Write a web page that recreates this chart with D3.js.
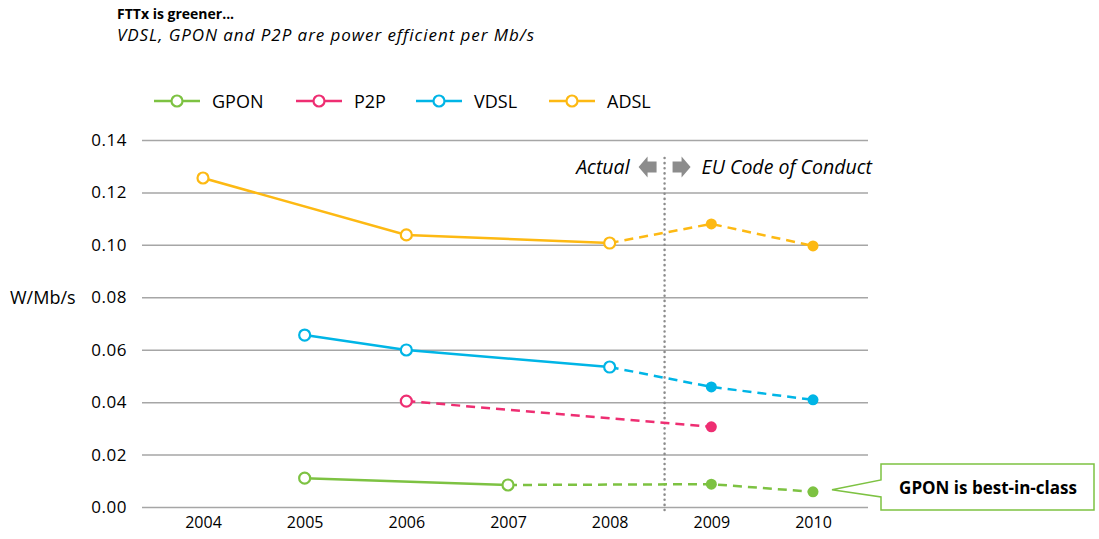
<!DOCTYPE html>
<html>
<head>
<meta charset="utf-8">
<script src="https://d3js.org/d3.v7.min.js"></script>
<style>
  body { margin: 0; background: #fff; }
  text { font-family: "Open Sans", "Noto Sans", sans-serif; fill: #000; }
</style>
</head>
<body>
<div id="chart"></div>
<script>
// data
var years = [2004, 2005, 2006, 2007, 2008, 2009, 2010];
var yTicks = [0, 0.02, 0.04, 0.06, 0.08, 0.10, 0.12, 0.14];
var gpon = [null, 0.0110, null, 0.0084, null, 0.0087, 0.0058];
var p2p  = [null, null, 0.0404, null, null, 0.0306, null];
var vdsl = [null, 0.0656, 0.0599, null, 0.0534, 0.0458, 0.0409];
var adsl = [0.1255, null, 0.1038, null, 0.1007, 0.1080, 0.0996];
var lastActual = 2008; // years after this are EU Code of Conduct targets

var series = [
  { name: "GPON", values: gpon, color: "#7dc242" },
  { name: "P2P",  values: p2p,  color: "#ee2e72" },
  { name: "VDSL", values: vdsl, color: "#00b5e6" },
  { name: "ADSL", values: adsl, color: "#fdb913" }
];

var W = 1099, H = 539;
var svg = d3.select("#chart").append("svg")
  .attr("width", W).attr("height", H);

var x = d3.scalePoint().domain(years).range([203, 813]);
var y = d3.scaleLinear().domain([0, 0.14]).range([507, 140]);

// title
svg.append("text").attr("x", 117).attr("y", 19)
  .style("font-size", "14px").style("font-weight", "bold")
  .text("FTTx is greener...");
svg.append("text").attr("x", 117).attr("y", 41)
  .style("font-size", "17px").style("font-style", "italic").style("letter-spacing", "0.95px")
  .text("VDSL, GPON and P2P are power efficient per Mb/s");

// gridlines + y axis
var yAxis = svg.append("g")
  .attr("transform", "translate(142,0)")
  .call(d3.axisLeft(y).tickValues(yTicks).tickSize(-726)
    .tickFormat(d3.format(".2f")).tickPadding(15));
yAxis.select(".domain").remove();
yAxis.selectAll("line").attr("stroke", "#a6a6a6").attr("stroke-width", 1.5);
yAxis.selectAll("text").style("font-size", "17px").style("font-family", "'Open Sans', sans-serif")
  .style("letter-spacing", "0.5px").attr("fill", "#000");

// x axis labels
var xAxis = svg.append("g")
  .attr("transform", "translate(0,507)")
  .call(d3.axisBottom(x).tickSize(0).tickPadding(10).tickFormat(d3.format("d")));
xAxis.select(".domain").remove();
xAxis.selectAll("text").style("font-size", "16px").style("font-family", "'Open Sans', sans-serif").attr("fill", "#000");

svg.append("text").attr("x", 10).attr("y", 304)
  .style("font-size", "18px").text("W/Mb/s");

// divider between actual and target
var xSplit = x(lastActual) + (x(lastActual + 1) - x(lastActual)) * 0.54;
svg.append("line")
  .attr("x1", xSplit).attr("x2", xSplit).attr("y1", 158).attr("y2", 513)
  .attr("stroke", "#8c8c8c").attr("stroke-width", 2.5)
  .attr("stroke-dasharray", "0.1 5").attr("stroke-linecap", "round");

svg.append("text").attr("x", xSplit - 35).attr("y", 174)
  .attr("text-anchor", "end").style("font-size", "19.5px").style("font-style", "italic")
  .text("Actual");
svg.append("text").attr("x", xSplit + 37).attr("y", 174)
  .style("font-size", "19.5px").style("font-style", "italic")
  .text("EU Code of Conduct");
// grey arrows either side of the divider
svg.append("path")
  .attr("d", "M" + (xSplit - 26) + ",167 l9,-10.5 v5 h9 v11 h-9 v5 z")
  .attr("fill", "#8c8c8c");
svg.append("path")
  .attr("d", "M" + (xSplit + 26) + ",167 l-9,-10.5 v5 h-9 v11 h9 v5 z")
  .attr("fill", "#8c8c8c");

// lines
var line = d3.line().x(function(d) { return x(d.year); }).y(function(d) { return y(d.value); });

series.forEach(function(s) {
  var pts = [];
  s.values.forEach(function(v, i) {
    if (v != null) pts.push({ year: years[i], value: v });
  });
  var actual = pts.filter(function(d) { return d.year <= lastActual; });
  var target = pts.filter(function(d) { return d.year > lastActual; });
  if (actual.length > 1) {
    svg.append("path").datum(actual).attr("d", line)
      .attr("fill", "none").attr("stroke", s.color).attr("stroke-width", 2.5);
  }
  var dashed = actual.slice(-1).concat(target);
  if (dashed.length > 1) {
    svg.append("path").datum(dashed).attr("d", line)
      .attr("fill", "none").attr("stroke", s.color).attr("stroke-width", 2.5)
      .attr("stroke-dasharray", "9 6");
  }
  svg.selectAll(null).data(actual).enter().append("circle")
    .attr("cx", function(d) { return x(d.year); })
    .attr("cy", function(d) { return y(d.value); })
    .attr("r", 5.5).attr("fill", "#fff")
    .attr("stroke", s.color).attr("stroke-width", 2.2);
  svg.selectAll(null).data(target).enter().append("circle")
    .attr("cx", function(d) { return x(d.year); })
    .attr("cy", function(d) { return y(d.value); })
    .attr("r", 5.5).attr("fill", s.color);
});

// legend
var legX = [154, 296, 416, 549];
series.forEach(function(s, i) {
  var g = svg.append("g").attr("transform", "translate(" + legX[i] + ",101)");
  g.append("line").attr("x1", 0).attr("x2", 46).attr("stroke", s.color).attr("stroke-width", 2.5);
  g.append("circle").attr("cx", 23).attr("r", 5.5).attr("fill", "#fff")
    .attr("stroke", s.color).attr("stroke-width", 2.2);
  g.append("text").attr("x", 58).attr("y", 6.5).style("font-size", "18px").text(s.name);
});

// callout
var tipX = x(2010) + 19, tipY = y(gpon[6]) - 2;
svg.append("path")
  .attr("d", "M881,464 H1094 V510 H881 V497 L" + tipX + "," + tipY + " L881,480 Z")
  .attr("fill", "#fff").attr("stroke", "#7dc242").attr("stroke-width", 1.5);
svg.append("text").attr("x", 988).attr("y", 494)
  .attr("text-anchor", "middle").style("font-size", "17px").style("font-weight", "bold")
  .text("GPON is best-in-class");
</script>
</body>
</html>
